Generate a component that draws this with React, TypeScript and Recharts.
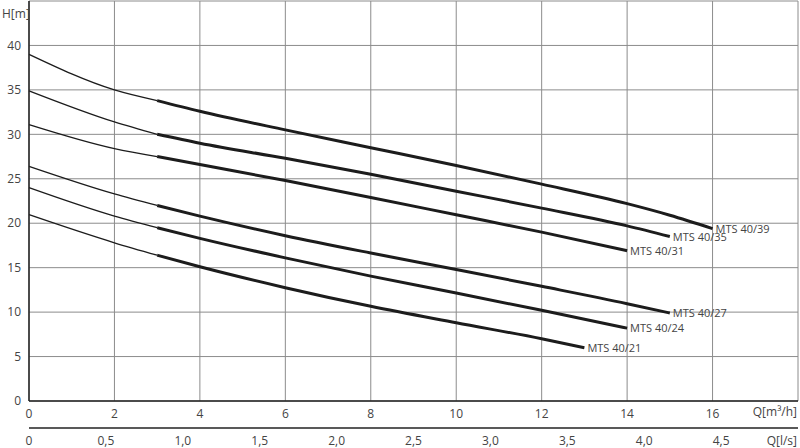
import React from 'react';
import { LineChart, Line, XAxis, YAxis, CartesianGrid } from 'recharts';

// Flow Q [m³/h] -> head H [m]; thin part of each curve up to Q=3, thick part after
const thin39 = [{ q: 0, h: 39.0 }, { q: 2, h: 35.0 }, { q: 3, h: 33.8 }];
const thick39 = [{ q: 3, h: 33.8 }, { q: 4, h: 32.6 }, { q: 6, h: 30.5 }, { q: 8, h: 28.5 }, { q: 10, h: 26.5 }, { q: 12, h: 24.4 }, { q: 14, h: 22.2 }, { q: 15, h: 20.9 }, { q: 16, h: 19.4 }];
const thin35 = [{ q: 0, h: 34.9 }, { q: 2, h: 31.4 }, { q: 3, h: 30.0 }];
const thick35 = [{ q: 3, h: 30.0 }, { q: 4, h: 29.0 }, { q: 6, h: 27.3 }, { q: 8, h: 25.5 }, { q: 10, h: 23.6 }, { q: 12, h: 21.7 }, { q: 14, h: 19.7 }, { q: 15, h: 18.5 }];
const thin31 = [{ q: 0, h: 31.1 }, { q: 2, h: 28.4 }, { q: 3, h: 27.5 }];
const thick31 = [{ q: 3, h: 27.5 }, { q: 4, h: 26.6 }, { q: 6, h: 24.8 }, { q: 8, h: 22.9 }, { q: 10, h: 20.95 }, { q: 12, h: 19.0 }, { q: 14, h: 16.9 }];
const thin27 = [{ q: 0, h: 26.4 }, { q: 2, h: 23.3 }, { q: 3, h: 22.0 }];
const thick27 = [{ q: 3, h: 22.0 }, { q: 4, h: 20.8 }, { q: 6, h: 18.6 }, { q: 8, h: 16.65 }, { q: 10, h: 14.8 }, { q: 12, h: 12.9 }, { q: 14, h: 10.95 }, { q: 15, h: 9.9 }];
const thin24 = [{ q: 0, h: 24.0 }, { q: 2, h: 20.8 }, { q: 3, h: 19.5 }];
const thick24 = [{ q: 3, h: 19.5 }, { q: 4, h: 18.3 }, { q: 6, h: 16.1 }, { q: 8, h: 14.05 }, { q: 10, h: 12.15 }, { q: 12, h: 10.2 }, { q: 14, h: 8.2 }];
const thin21 = [{ q: 0, h: 20.96 }, { q: 2, h: 17.8 }, { q: 3, h: 16.4 }];
const thick21 = [{ q: 3, h: 16.4 }, { q: 4, h: 15.1 }, { q: 6, h: 12.75 }, { q: 8, h: 10.65 }, { q: 10, h: 8.8 }, { q: 12, h: 7.0 }, { q: 13, h: 6.0 }];

const curves = [
  { name: 'MTS 40/39', thin: thin39, thick: thick39 },
  { name: 'MTS 40/35', thin: thin35, thick: thick35 },
  { name: 'MTS 40/31', thin: thin31, thick: thick31 },
  { name: 'MTS 40/27', thin: thin27, thick: thick27 },
  { name: 'MTS 40/24', thin: thin24, thick: thick24 },
  { name: 'MTS 40/21', thin: thin21, thick: thick21 },
];

const qTicks = [0, 2, 4, 6, 8, 10, 12, 14, 16, 18];
const hTicks = [0, 5, 10, 15, 20, 25, 30, 35, 40, 45];
const lsTicks = [0, 0.5, 1.0, 1.5, 2.0, 2.5, 3.0, 3.5, 4.0, 4.5];
// l/s scale span (18 m³/h = 5 l/s), only used to give the second axis a series
const lsRange = [{ l: 0 }, { l: 5 }];

const FONT = '"Open Sans", sans-serif';
const TXT = '#444444';
const LINE = '#1c1c1c';

const endLabel = (name: string, last: number) => (props: any) => {
  const { x, y, index } = props;
  if (index !== last) return null;
  return (
    <text x={x + 3} y={y} dy={4} fontSize={11} fill={TXT} fontFamily={FONT}>
      {name}
    </text>
  );
};

export default function App() {
  return (
    <div style={{ position: 'absolute', left: 0, top: 0, width: 800, height: 448, background: '#fff', fontFamily: FONT }}>
      <LineChart width={800} height={448} margin={{ top: 1, right: 2, bottom: 0, left: 0 }}>
        <CartesianGrid stroke="#8c8c8c" strokeWidth={1} />
        <XAxis
          dataKey="q"
          type="number"
          domain={[0, 18]}
          ticks={qTicks}
          tickFormatter={(v) => (v === 18 ? '' : String(v))}
          tick={{ fontSize: 12, fill: TXT, fontFamily: FONT }}
          axisLine={{ stroke: '#222', strokeWidth: 1.5 }}
          tickLine={false}
          height={27}
          allowDuplicatedCategory={false}
        />
        <XAxis
          xAxisId="ls"
          dataKey="l"
          type="number"
          domain={[0, 5]}
          ticks={lsTicks}
          interval={0}
          tickFormatter={(v) => (v === 0 ? '0' : v.toFixed(1).replace('.', ','))}
          tick={{ fontSize: 12, fill: TXT, fontFamily: FONT }}
          axisLine={{ stroke: '#222', strokeWidth: 1.5 }}
          tickLine={false}
          height={20}
        />
        <YAxis
          type="number"
          domain={[0, 45]}
          ticks={hTicks}
          tickFormatter={(v) => (v === 45 ? '' : String(v))}
          tick={{ fontSize: 12, fill: TXT, fontFamily: FONT }}
          axisLine={{ stroke: '#222', strokeWidth: 1.5 }}
          tickLine={false}
          width={29}
        />
        <Line
          xAxisId="ls"
          data={lsRange}
          dataKey="none"
          stroke="none"
          dot={false}
          legendType="none"
          isAnimationActive={false}
        />
        {curves.map((c) => (
          <Line
            key={c.name + '-thin'}
            data={c.thin}
            dataKey="h"
            type="monotone"
            stroke={LINE}
            strokeWidth={1.3}
            dot={false}
            isAnimationActive={false}
          />
        ))}
        {curves.map((c) => (
          <Line
            key={c.name + '-thick'}
            data={c.thick}
            dataKey="h"
            type="monotone"
            stroke={LINE}
            strokeWidth={3}
            dot={false}
            isAnimationActive={false}
            label={endLabel(c.name, c.thick.length - 1)}
          />
        ))}
      </LineChart>
      <div style={{ position: 'absolute', left: 2, top: 5, fontSize: 12, color: TXT }}>H[m]</div>
      <div style={{ position: 'absolute', right: 3, top: 403, fontSize: 12, color: TXT }}>Q[m³/h]</div>
      <div style={{ position: 'absolute', right: 3, top: 432, fontSize: 12, color: TXT }}>Q[l/s]</div>
    </div>
  );
}
